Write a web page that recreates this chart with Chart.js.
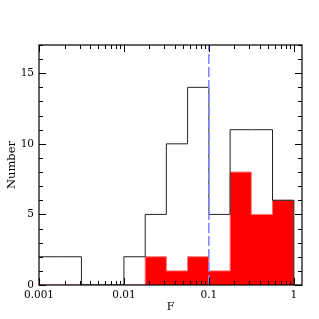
<!DOCTYPE html>
<html>
<head>
<meta charset="utf-8">
<script src="https://cdn.jsdelivr.net/npm/chart.js@4"></script>
<style>
  html, body { margin: 0; padding: 0; background: #fff; }
  #wrap { width: 319px; height: 319px; }
</style>
</head>
<body>
<div id="wrap"><canvas id="hist"></canvas></div>
<script>
// bin edges in F (quarter-decade bins)
const binEdges = [0.001, 0.00178, 0.00316, 0.00562, 0.01, 0.0178, 0.0316, 0.0562, 0.1, 0.178, 0.316, 0.562, 1];
// counts per bin: full sample (outline) and sub-sample (filled red)
const allCounts = [2, 2, 0, 0, 2, 5, 10, 14, 5, 11, 11, 6];
const subCounts = [0, 0, 0, 0, 0, 2, 1, 2, 1, 8, 5, 6];
const xTickValues = [0.001, 0.01, 0.1, 1];
const xTickLabels = ['0.001', '0.01', '0.1', '1'];
const yTickValues = [0, 5, 10, 15];
const cutValue = 0.1;

// turn bins into stepped points (horizontal first, then vertical)
function stepPoints(counts) {
    const pts = counts.map((c, i) => ({ x: binEdges[i], y: c }));
    pts.push({ x: binEdges[binEdges.length - 1], y: 0 });
    return pts;
}

const serif = '"DejaVu Serif", "Liberation Serif", serif';

// inward ticks on all four sides + frame
const frameTicks = {
    id: 'frameTicks',
    afterDatasetsDraw(chart) {
        const ctx = chart.ctx;
        const a = chart.chartArea;
        const xs = chart.scales.x, ys = chart.scales.y;
        ctx.save();
        ctx.strokeStyle = '#000';
        ctx.lineWidth = 1.2;
        ctx.strokeRect(a.left, a.top, a.right - a.left, a.bottom - a.top);
        ctx.lineWidth = 1;
        ctx.beginPath();
        xTickValues.forEach(d => {
            for (let m = 1; m <= 9; m++) {
                const v = m * d;
                if (v < xs.min || v > xs.max) continue;
                const px = Math.round(xs.getPixelForValue(v)) + 0.5;
                const len = m === 1 ? 7 : 4;
                ctx.moveTo(px, a.bottom); ctx.lineTo(px, a.bottom - len);
                ctx.moveTo(px, a.top); ctx.lineTo(px, a.top + len);
            }
        });
        for (let v = 0; v <= ys.max; v++) {
            const py = Math.round(ys.getPixelForValue(v)) + 0.5;
            const len = v % 5 === 0 ? 7 : 4;
            ctx.moveTo(a.left, py); ctx.lineTo(a.left + len, py);
            ctx.moveTo(a.right, py); ctx.lineTo(a.right - len, py);
        }
        ctx.stroke();
        ctx.restore();
    }
};

new Chart(document.getElementById('hist'), {
    type: 'line',
    data: {
        datasets: [
            {
                label: 'cut',
                data: [{ x: cutValue, y: 0 }, { x: cutValue, y: 17 }],
                borderColor: '#8080ff',
                borderWidth: 1.5,
                borderDash: [10, 3],
                pointRadius: 0,
                order: 0
            },
            {
                label: 'all',
                data: stepPoints(allCounts),
                stepped: 'before',
                borderColor: '#222',
                borderWidth: 1,
                pointRadius: 0,
                fill: false,
                order: 1
            },
            {
                label: 'sub',
                data: stepPoints(subCounts),
                stepped: 'before',
                borderColor: '#ff7070',
                borderWidth: 1,
                backgroundColor: '#ff0000',
                pointRadius: 0,
                fill: 'origin',
                order: 2
            }
        ]
    },
    options: {
        responsive: true,
        maintainAspectRatio: false,
        animation: false,
        layout: { padding: { top: 45, right: 17, left: 0, bottom: 0 } },
        plugins: { legend: { display: false }, tooltip: { enabled: false } },
        scales: {
            x: {
                type: 'logarithmic',
                min: 0.001,
                max: 1.25,
                afterBuildTicks: s => { s.ticks = xTickValues.map(v => ({ value: v })); },
                afterFit: s => { s.height = 34; },
                grid: { display: false, drawTicks: false },
                border: { display: false },
                ticks: {
                    autoSkip: false,
                    maxRotation: 0,
                    padding: 4,
                    color: '#000',
                    font: { family: serif, size: 10.5 },
                    callback: (v, i) => xTickLabels[i]
                },
                title: {
                    display: true,
                    text: 'F',
                    color: '#000',
                    font: { family: serif, size: 11 },
                    padding: { top: 0, bottom: 5 }
                }
            },
            y: {
                type: 'linear',
                min: 0,
                max: 17,
                afterBuildTicks: s => { s.ticks = yTickValues.map(v => ({ value: v })); },
                afterFit: s => { s.width = 39; },
                grid: { display: false, drawTicks: false },
                border: { display: false },
                ticks: {
                    padding: 5,
                    color: '#000',
                    font: { family: serif, size: 10.5 }
                },
                title: {
                    display: true,
                    text: 'Number',
                    color: '#000',
                    font: { family: serif, size: 11.5 },
                    padding: { top: 5, bottom: 0 }
                }
            }
        }
    },
    plugins: [frameTicks]
});
</script>
</body>
</html>
